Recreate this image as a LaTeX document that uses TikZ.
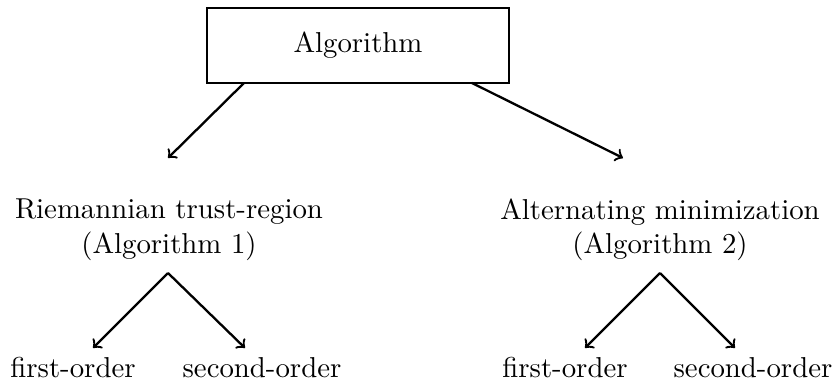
\documentclass[tikz,border=0pt]{standalone}
\begin{document}
\begin{tikzpicture}[x=0.3472pt, y=-0.3472pt,
  boxnode/.style={draw, thick, minimum width=104.9pt, minimum height=26pt, inner sep=0pt},
  textnode/.style={align=center, inner sep=0pt},
  leaf/.style={inner sep=0pt, anchor=base},
  conn/.style={->, thick}]
\useasboundingbox (0,0) rectangle (835,383);
\node[boxnode] (alg) at (358,45.5) {Algorithm};
\node[textnode] (rtr) at (169,230) {Riemannian trust-region\\(Algorithm 1)};
\node[textnode] (am) at (660,230) {Alternating minimization\\(Algorithm 2)};
\node[leaf] (f1) at (73,377) {first-order};
\node[leaf] (s1) at (262,377) {second-order};
\node[leaf] (f2) at (565,377) {first-order};
\node[leaf] (s2) at (753,377) {second-order};
\coordinate (a1) at (244,83);
\coordinate (a1e) at (168,158);
\coordinate (a2) at (472,83);
\coordinate (a2e) at (623,158);
\coordinate (p1) at (168,273);
\coordinate (p1l) at (93,348);
\coordinate (p1r) at (245,348);
\coordinate (p2) at (660,273);
\coordinate (p2l) at (585,348);
\coordinate (p2r) at (735,348);
\draw[conn] (a1) -- (a1e);
\draw[conn] (a2) -- (a2e);
\draw[conn] (p1) -- (p1l);
\draw[conn] (p1) -- (p1r);
\draw[conn] (p2) -- (p2l);
\draw[conn] (p2) -- (p2r);
\end{tikzpicture}
\end{document}
